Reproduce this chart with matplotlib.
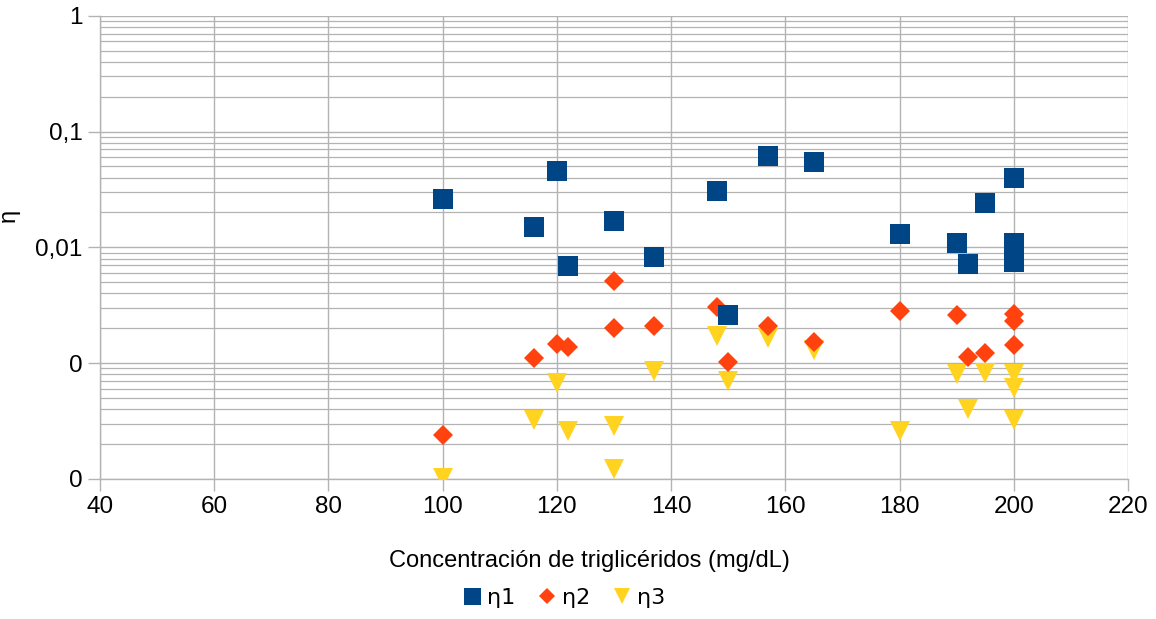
import matplotlib.pyplot as plt
from matplotlib.ticker import FixedLocator, LogLocator, NullFormatter

# Concentración de triglicéridos (mg/dL) y coeficientes eta por serie
x_eta1 = [100, 116, 120, 122, 130, 137, 148, 150, 157, 165, 180, 190, 192, 195, 200, 200, 200]
eta1 = [0.0260, 0.0149, 0.0456, 0.00694, 0.0170, 0.00829, 0.0308, 0.00262, 0.0609, 0.0548,
        0.0131, 0.0109, 0.00722, 0.0243, 0.0394, 0.0109, 0.00754]

x_eta2 = [100, 116, 120, 122, 130, 130, 137, 148, 150, 157, 165, 180, 190, 192, 195, 200, 200, 200]
eta2 = [0.000239, 0.00110, 0.00145, 0.00139, 0.00515, 0.00200, 0.00209, 0.00308, 0.00102,
        0.00209, 0.00153, 0.00282, 0.00260, 0.00114, 0.00122, 0.00264, 0.00232, 0.00143]

x_eta3 = [100, 116, 120, 122, 130, 130, 137, 148, 150, 157, 165, 180, 190, 192, 195, 200, 200, 200]
eta3 = [0.000101, 0.000323, 0.000670, 0.000261, 0.000286, 0.000121, 0.000855, 0.00173, 0.000698,
        0.00164, 0.00131, 0.000261, 0.000805, 0.000399, 0.000826, 0.000805, 0.000606, 0.000323]

x_ticks = [40, 60, 80, 100, 120, 140, 160, 180, 200, 220]
y_ticks = [1e-4, 1e-3, 1e-2, 1e-1, 1]
y_tick_labels = ['0', '0', '0,01', '0,1', '1']

fig = plt.figure(figsize=(11.56, 6.19), dpi=100)
ax = fig.add_axes([0.0865, 0.2262, 0.8893, 0.7484])

grid_col = '#b3b3b3'

ax.plot(x_eta1, eta1, linestyle='none', marker='s', markersize=14.4, color='#004586',
        markeredgewidth=0, label='η1', zorder=5)
ax.plot(x_eta2, eta2, linestyle='none', marker='D', markersize=9.7, color='#ff420e',
        markeredgewidth=0, label='η2', zorder=4)
ax.plot(x_eta3, eta3, linestyle='none', marker='v', markersize=13.7, color='#ffd320',
        markeredgewidth=0, label='η3', zorder=3)

ax.set_yscale('log')
ax.set_ylim(1e-4, 1)
ax.set_xlim(40, 220)
ax.set_xticks(x_ticks)
ax.yaxis.set_major_locator(FixedLocator(y_ticks))
ax.set_yticklabels(y_tick_labels)
ax.yaxis.set_minor_locator(LogLocator(base=10, subs=range(2, 10), numticks=20))
ax.yaxis.set_minor_formatter(NullFormatter())

ax.grid(True, which='major', axis='both', color=grid_col, linewidth=1.0, zorder=0)
ax.grid(True, which='minor', axis='y', color=grid_col, linewidth=0.9, zorder=0)
ax.set_axisbelow(True)

for s in ['top', 'right']:
    ax.spines[s].set_visible(False)
for s in ['left', 'bottom']:
    ax.spines[s].set_color(grid_col)
    ax.spines[s].set_linewidth(1.0)

ax.tick_params(axis='both', which='major', direction='out', length=8.5, width=1.0,
               color=grid_col, labelsize=17.5, pad=4)
ax.tick_params(axis='y', which='minor', length=0)
for lbl in ax.get_xticklabels() + ax.get_yticklabels():
    lbl.set_fontfamily('Liberation Sans')

ax.set_ylabel('η', fontsize=17, family='Liberation Sans')
ax.yaxis.set_label_coords(-0.078, 0.568)

fig.text(0.51, 1 - 561 / 619, 'Concentración de triglicéridos (mg/dL)', ha='center', va='center',
         fontsize=17, family='Liberation Sans')

fig.legend(loc='center', bbox_to_anchor=(0.487, 1 - 598 / 619), ncol=3, frameon=False,
           prop={'family': 'DejaVu Sans', 'size': 16}, handletextpad=0.2,
           columnspacing=0.9, handlelength=1.0, markerscale=0.85)

fig.savefig('out.png', dpi=100)
